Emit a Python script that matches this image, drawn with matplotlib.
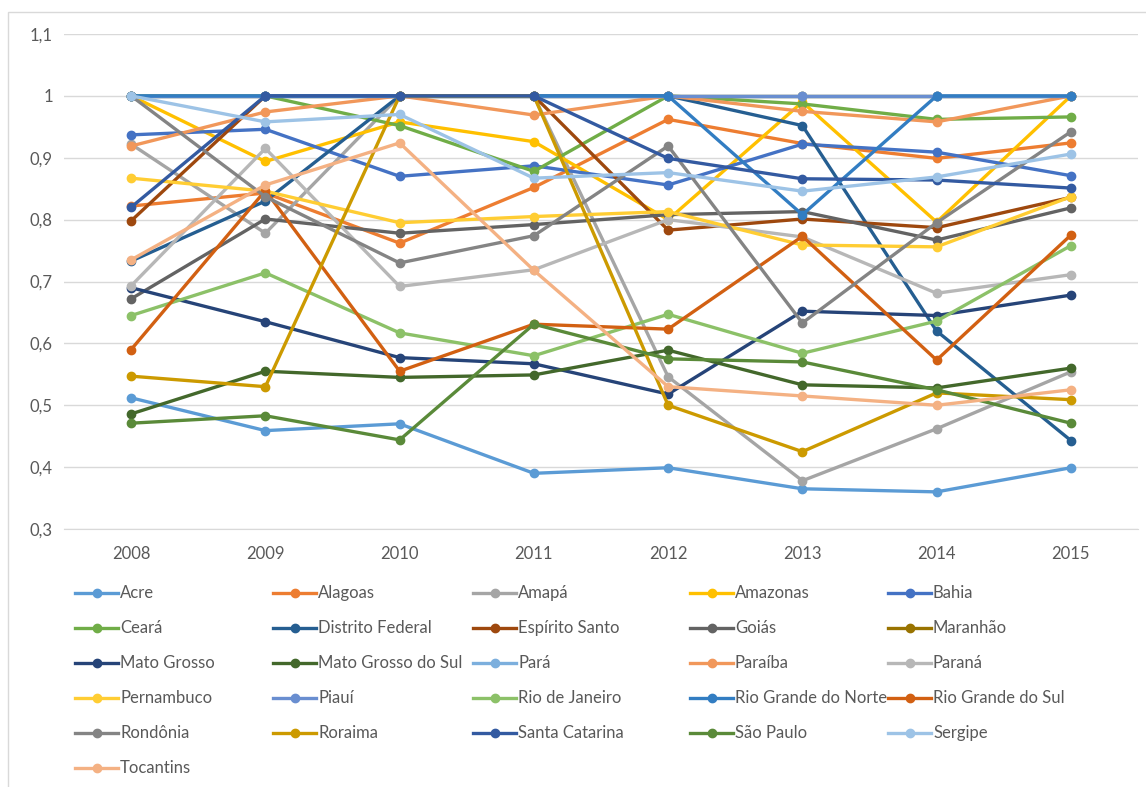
import matplotlib.pyplot as plt
from matplotlib.lines import Line2D
from matplotlib.patches import Rectangle
from matplotlib.ticker import FuncFormatter

years = [2008, 2009, 2010, 2011, 2012, 2013, 2014, 2015]

states = ["Acre", "Alagoas", "Amapá", "Amazonas", "Bahia",
          "Ceará", "Distrito Federal", "Espírito Santo", "Goiás", "Maranhão",
          "Mato Grosso", "Mato Grosso do Sul", "Pará", "Paraíba", "Paraná",
          "Pernambuco", "Piauí", "Rio de Janeiro", "Rio Grande do Norte", "Rio Grande do Sul",
          "Rondônia", "Roraima", "Santa Catarina", "São Paulo", "Sergipe",
          "Tocantins"]

acre = [0.512, 0.459, 0.470, 0.390, 0.399, 0.365, 0.360, 0.399]
alagoas = [0.822, 0.843, 0.762, 0.852, 0.962, 0.923, 0.899, 0.924]
amapa = [0.922, 0.778, 1.0, 1.0, 0.546, 0.378, 0.462, 0.554]
amazonas = [1.0, 0.894, 0.958, 0.926, 0.800, 0.990, 0.796, 1.0]
bahia = [0.937, 0.946, 0.870, 0.887, 0.856, 0.922, 0.909, 0.871]
ceara = [1.0, 1.0, 0.952, 0.878, 1.0, 0.987, 0.962, 0.966]
distrito_federal = [0.733, 0.830, 1.0, 1.0, 1.0, 0.952, 0.620, 0.443]
espirito_santo = [0.798, 1.0, 1.0, 1.0, 0.783, 0.801, 0.787, 0.836]
goias = [0.672, 0.801, 0.778, 0.792, 0.808, 0.813, 0.767, 0.819]
maranhao = [1.0, 1.0, 1.0, 1.0, 1.0, 1.0, 1.0, 1.0]
mato_grosso = [0.690, 0.635, 0.577, 0.567, 0.518, 0.652, 0.645, 0.678]
mato_grosso_sul = [0.486, 0.555, 0.545, 0.549, 0.589, 0.533, 0.528, 0.560]
para = [1.0, 1.0, 1.0, 1.0, 1.0, 1.0, 1.0, 1.0]
paraiba = [0.919, 0.974, 1.0, 0.969, 1.0, 0.975, 0.958, 1.0]
parana = [0.693, 0.915, 0.692, 0.719, 0.800, 0.772, 0.681, 0.711]
pernambuco = [0.867, 0.846, 0.795, 0.805, 0.813, 0.759, 0.756, 0.837]
piaui = [1.0, 1.0, 1.0, 1.0, 1.0, 1.0, 1.0, 1.0]
rio_de_janeiro = [0.645, 0.714, 0.617, 0.580, 0.647, 0.584, 0.636, 0.758]
rio_grande_norte = [1.0, 1.0, 1.0, 1.0, 1.0, 0.808, 1.0, 1.0]
rio_grande_sul = [0.590, 0.847, 0.555, 0.631, 0.623, 0.773, 0.573, 0.775]
rondonia = [1.0, 0.837, 0.730, 0.774, 0.919, 0.633, 0.795, 0.942]
roraima = [0.547, 0.530, 1.0, 1.0, 0.500, 0.425, 0.520, 0.509]
santa_catarina = [0.820, 1.0, 1.0, 1.0, 0.899, 0.866, 0.864, 0.851]
sao_paulo = [0.471, 0.483, 0.444, 0.631, 0.575, 0.570, 0.525, 0.471]
sergipe = [1.0, 0.958, 0.970, 0.867, 0.876, 0.846, 0.869, 0.906]
tocantins = [0.735, 0.856, 0.924, 0.718, 0.530, 0.515, 0.500, 0.525]

values = [acre, alagoas, amapa, amazonas, bahia,
          ceara, distrito_federal, espirito_santo, goias, maranhao,
          mato_grosso, mato_grosso_sul, para, paraiba, parana,
          pernambuco, piaui, rio_de_janeiro, rio_grande_norte, rio_grande_sul,
          rondonia, roraima, santa_catarina, sao_paulo, sergipe,
          tocantins]

# excel default palette, cycled with darker/lighter variants
colors = ["#5B9BD5", "#ED7D31", "#A5A5A5", "#FFC000", "#4472C4",
          "#70AD47", "#255E91", "#9E480E", "#636363", "#997300",
          "#264478", "#43682B", "#7CAFDD", "#F1975A", "#B7B7B7",
          "#FFCD33", "#698ED0", "#8CC168", "#327DC2", "#D26012",
          "#848484", "#CC9A00", "#335AA1", "#5A8A39", "#9DC3E6",
          "#F4B183"]

plt.rcParams['font.family'] = ['Lato', 'DejaVu Sans']
text_color = "#595959"

fig = plt.figure(figsize=(11.46, 7.87), dpi=100)
W, H = 1146, 787

# faint chart-area frame like excel
fig.add_artist(Rectangle((8 / W, -0.05), 1.1, 1 - 12 / H + 0.05, transform=fig.transFigure,
                         fill=False, edgecolor='#D9D9D9', lw=1))

ax = fig.add_axes([64 / W, 1 - 529 / H, (1138 - 64) / W, (529 - 34) / H])

xs = list(range(len(years)))
for vals, c in zip(values, colors):
    ax.plot(xs, vals, color=c, lw=2.4, marker='o', ms=6, solid_capstyle='round')

ax.set_xlim(-0.5, len(years) - 0.5)
ax.set_ylim(0.3, 1.1)
ax.set_yticks([0.3, 0.4, 0.5, 0.6, 0.7, 0.8, 0.9, 1.0, 1.1])
ax.yaxis.set_major_formatter(FuncFormatter(lambda v, p: ('%g' % round(v, 2)).replace('.', ',')))
ax.set_xticks(xs)
ax.set_xticklabels([str(y) for y in years])
ax.grid(axis='y', color='#D9D9D9', lw=1)
ax.set_axisbelow(True)
for s in ['top', 'right', 'left']:
    ax.spines[s].set_visible(False)
ax.spines['bottom'].set_color('#D9D9D9')
ax.tick_params(length=0, colors=text_color, labelsize=12)
ax.tick_params(axis='x', pad=12)
ax.tick_params(axis='y', pad=8)

# legend drawn by hand, excel style grid (row-major)
col_x = [75, 273, 473, 690, 888]
row_y0, row_dy = 593, 35
for i, (name, c) in enumerate(zip(states, colors)):
    r, k = divmod(i, 5)
    x0 = col_x[k]
    y = row_y0 + r * row_dy
    fig.add_artist(Line2D([x0 / W, (x0 + 43) / W], [1 - y / H, 1 - y / H],
                          color=c, lw=2.4, transform=fig.transFigure))
    fig.add_artist(Line2D([(x0 + 21.5) / W], [1 - y / H], color=c, marker='o',
                          ms=6, transform=fig.transFigure))
    fig.text((x0 + 45) / W, 1 - y / H, name, color=text_color, fontsize=12,
             va='center', ha='left')

fig.savefig("out.png", dpi=100)
